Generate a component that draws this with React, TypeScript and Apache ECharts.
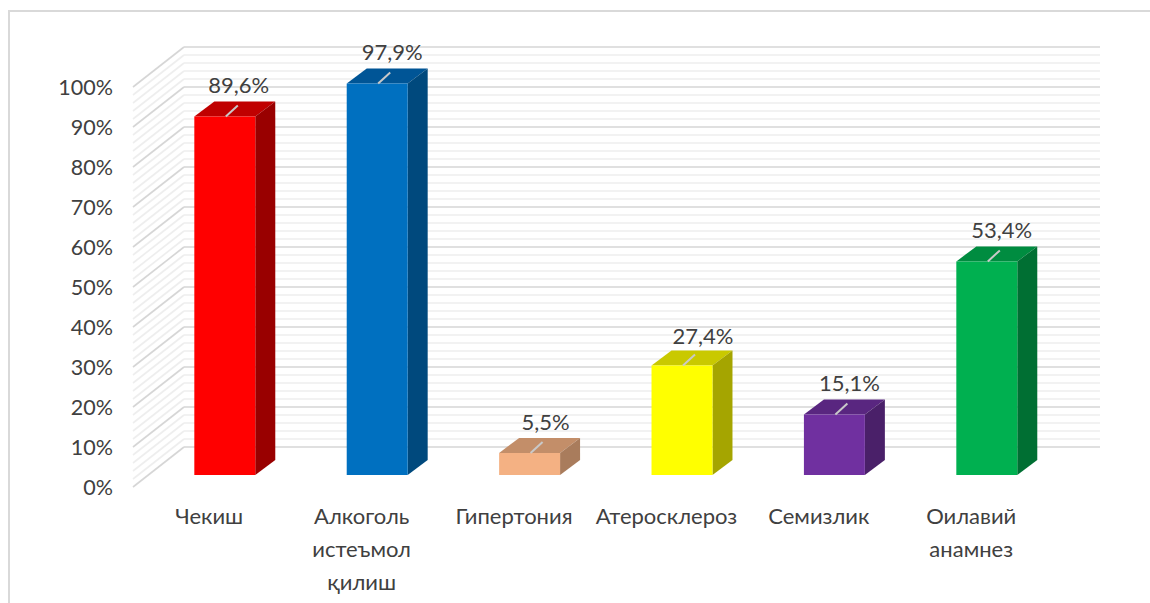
import { useEffect, useRef } from "react";
import * as echarts from "echarts";

const categories = [
  "Чекиш",
  "Алкоголь\nистеъмол\nқилиш",
  "Гипертония",
  "Атеросклероз",
  "Семизлик",
  "Оилавий\nанамнез",
];
const values = [89.6, 97.9, 5.5, 27.4, 15.1, 53.4];
const frontColors = ["#FF0000", "#0070C0", "#F4B183", "#FFFF00", "#7030A0", "#00B050"];
const topColors = ["#C00000", "#005596", "#C38E69", "#C9C900", "#592680", "#008C40"];
const sideColors = ["#990000", "#00497D", "#A97C5C", "#A5A500", "#4A2069", "#006F33"];
const wallTicks = [
  0, 2, 4, 6, 8, 10, 12, 14, 16, 18, 20, 22, 24, 26, 28, 30, 32, 34, 36, 38, 40, 42, 44, 46, 48, 50,
  52, 54, 56, 58, 60, 62, 64, 66, 68, 70, 72, 74, 76, 78, 80, 82, 84, 86, 88, 90, 92, 94, 96, 98, 100,
];

const FONT = "Lato, 'Noto Sans', sans-serif";
const TEXT = "#404040";
const MAJOR = "#d6d6d6";
const MINOR = "#eeeeee";
const BAR_DEPTH_X = 20;
const BAR_DEPTH_Y = 15;
const WALL_DEPTH_X = 51;
const WALL_DEPTH_Y = 40;
// Hand-placed value labels sit slightly off the bar's centre line.
const LABEL_SHIFT_X = [14, 15, 16, 21, 15, 15];
const LABEL_RISE = [32, 32, 32, 30, 32, 32];

// Bars are drawn as three faces: front, top and right side.
function renderBar(_params: any, api: any) {
  const i = api.value(0) as number;
  const v = api.value(1) as number;
  const [cx, top] = api.coord([i, v]);
  const [, base] = api.coord([i, 0]);
  const w = api.size([1, 0])[0] * 0.4;
  const l = cx - w / 2;
  const r = cx + w / 2;
  const dx = BAR_DEPTH_X;
  const dy = BAR_DEPTH_Y;
  return {
    type: "group",
    children: [
      {
        type: "polygon",
        shape: { points: [[l, top], [r, top], [r + dx, top - dy], [l + dx, top - dy]] },
        style: { fill: topColors[i] },
      },
      {
        type: "polygon",
        shape: { points: [[r, top], [r + dx, top - dy], [r + dx, base - dy], [r, base]] },
        style: { fill: sideColors[i] },
      },
      {
        type: "rect",
        shape: { x: l, y: top, width: w, height: base - top },
        style: { fill: frontColors[i] },
      },
      {
        type: "line",
        shape: { x1: cx + 1, y1: top, x2: cx + 13, y2: top - 11 },
        style: { stroke: "#c9c9c9", lineWidth: 2 },
      },
      {
        type: "text",
        style: {
          x: cx + LABEL_SHIFT_X[i],
          y: top - LABEL_RISE[i],
          text: v.toFixed(1).replace(".", ",") + "%",
          align: "center",
          verticalAlign: "middle",
          font: `22px ${FONT}`,
          fill: TEXT,
        },
      },
    ],
  };
}

// Side wall: each rule of the back wall continues forward to the front edge.
function renderWallLine(params: any, api: any) {
  const v = api.value(1) as number;
  const x = params.coordSys.x;
  const [, y] = api.coord([0, v]);
  const major = v % 10 === 0;
  return {
    type: "line",
    shape: { x1: x, y1: y, x2: x + WALL_DEPTH_X, y2: y - WALL_DEPTH_Y },
    style: { stroke: major ? MAJOR : MINOR, lineWidth: 1.6 },
  };
}

export default function App() {
  const ref = useRef<HTMLDivElement>(null);

  useEffect(() => {
    const chart = echarts.init(ref.current!, undefined, { renderer: "svg" });
    const hiddenValue = { type: "value", min: 0, max: 100, show: false };
    chart.setOption({
      animation: false,
      backgroundColor: "#ffffff",
      textStyle: { fontFamily: FONT },
      graphic: [
        {
          type: "polyline",
          shape: { points: [[9, 603], [9, 11], [1150, 11]] },
          style: { stroke: "#d9d9d9", lineWidth: 2, fill: "none" },
          silent: true,
        },
      ],
      grid: [
        { left: 148.6, top: 75, width: 914.4, height: 400 },
        { left: 184, top: 47, width: 916, height: 400 },
        { left: 133, top: 87, width: 914.4, height: 400 },
      ],
      xAxis: [
        { gridIndex: 0, type: "category", data: categories, show: false },
        { gridIndex: 1, type: "category", data: categories, show: false },
        {
          gridIndex: 2,
          type: "category",
          data: categories,
          axisLine: { show: false },
          axisTick: { show: false },
          axisLabel: {
            interval: 0,
            margin: 12,
            fontSize: 22,
            lineHeight: 33,
            color: TEXT,
            fontFamily: FONT,
          },
        },
      ],
      yAxis: [
        { gridIndex: 0, ...hiddenValue },
        {
          gridIndex: 1,
          type: "value",
          min: 0,
          max: 100,
          interval: 10,
          axisLine: { show: false },
          axisTick: { show: false },
          axisLabel: { show: false },
          splitLine: { show: true, lineStyle: { color: MAJOR, width: 1.6 } },
          minorTick: { show: false, splitNumber: 5 },
          minorSplitLine: { show: true, lineStyle: { color: MINOR, width: 1.6 } },
        },
        {
          gridIndex: 2,
          type: "value",
          min: 0,
          max: 100,
          interval: 10,
          axisLine: { show: false },
          axisTick: { show: false },
          splitLine: { show: false },
          axisLabel: {
            margin: 20,
            fontSize: 21.5,
            color: TEXT,
            fontFamily: FONT,
            formatter: "{value}%",
          },
        },
      ],
      series: [
        {
          type: "custom",
          xAxisIndex: 2,
          yAxisIndex: 2,
          z: 1,
          silent: true,
          renderItem: renderWallLine,
          encode: { x: 0, y: 1 },
          data: wallTicks.map((v) => [0, v]),
        },
        {
          type: "custom",
          xAxisIndex: 0,
          yAxisIndex: 0,
          z: 5,
          silent: true,
          renderItem: renderBar,
          encode: { x: 0, y: 1 },
          data: values.map((v, i) => [i, v]),
        },
      ],
    });
    return () => chart.dispose();
  }, []);

  return (
    <div
      ref={ref}
      style={{ position: "fixed", left: 0, top: 0, width: 1150, height: 603 }}
    />
  );
}
